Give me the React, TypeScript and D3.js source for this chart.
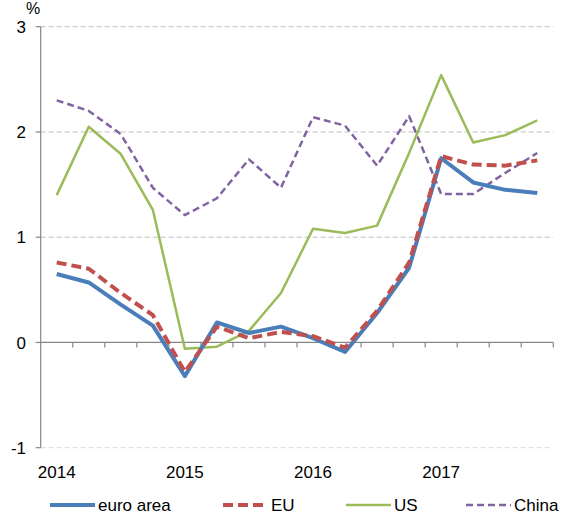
import React from 'react';
import * as d3 from 'd3';

// quarterly, 2014Q1 .. 2017Q4
const quarters = [
  '2014Q1', '2014Q2', '2014Q3', '2014Q4',
  '2015Q1', '2015Q2', '2015Q3', '2015Q4',
  '2016Q1', '2016Q2', '2016Q3', '2016Q4',
  '2017Q1', '2017Q2', '2017Q3', '2017Q4',
];
const yearLabels = ['2014', '2015', '2016', '2017'];
const yTicks = [-1, 0, 1, 2, 3];

const euroArea = [0.65, 0.57, 0.36, 0.16, -0.32, 0.19, 0.09, 0.15, 0.04, -0.09, 0.28, 0.71, 1.75, 1.52, 1.45, 1.42];
const eu = [0.76, 0.70, 0.47, 0.26, -0.28, 0.15, 0.04, 0.10, 0.06, -0.05, 0.30, 0.76, 1.77, 1.69, 1.68, 1.73];
const us = [1.40, 2.05, 1.79, 1.26, -0.06, -0.04, 0.11, 0.47, 1.08, 1.04, 1.11, 1.80, 2.54, 1.90, 1.97, 2.11];
const china = [2.30, 2.20, 1.98, 1.47, 1.21, 1.37, 1.74, 1.47, 2.14, 2.06, 1.68, 2.15, 1.41, 1.41, 1.61, 1.80];

const series = [
  { name: 'euro area', values: euroArea, color: '#4a7ebb', width: 4, dash: undefined as string | undefined },
  { name: 'EU', values: eu, color: '#c0504d', width: 4, dash: '10,5' },
  { name: 'US', values: us, color: '#9bbb59', width: 2.5, dash: undefined as string | undefined },
  { name: 'China', values: china, color: '#8064a2', width: 2.5, dash: '7,4' },
];
// draw order: China and US behind, euro area, EU on top
const drawOrder = ['China', 'US', 'euro area', 'EU'];

const W = 566;
const H = 517;
const left = 40.7;
const right = 553.3;
const font = '"Liberation Sans", Arial, sans-serif';

export default function App() {
  const x = d3.scaleBand<string>().domain(quarters).range([left, right]);
  const y = d3.scaleLinear().domain([-1, 3]).range([447.7, 26.7]);
  const line = d3
    .line<number>()
    .x((_, i) => (x(quarters[i]) as number) + x.bandwidth() / 2)
    .y((d) => y(d));

  const legendX = [50, 223, 346, 466];

  return (
    <svg
      width={W}
      height={H}
      style={{ position: 'absolute', left: 0, top: 0, background: '#fff' }}
      fontFamily={font}
    >
      {/* gridlines */}
      {yTicks.filter((t) => t !== 0).map((t) => (
        <line
          key={t}
          x1={left}
          x2={right}
          y1={y(t)}
          y2={y(t)}
          stroke={t === -1 ? '#d9d9d9' : '#bfbfbf'}
          strokeWidth={1}
          strokeDasharray="5,3"
        />
      ))}
      {/* y axis */}
      <line x1={left} x2={left} y1={y(3)} y2={y(-1)} stroke="#868686" strokeWidth={1.2} />
      {yTicks.map((t) => (
        <g key={t}>
          <line x1={left - 5} x2={left} y1={y(t)} y2={y(t)} stroke="#868686" strokeWidth={1.2} />
          <text x={26} y={y(t)} dy="0.36em" textAnchor="end" fontSize={17} fill="#000">
            {t}
          </text>
        </g>
      ))}
      <text x={33} y={14} textAnchor="middle" fontSize={16} fill="#000">%</text>
      {/* zero axis with quarter ticks */}
      <line x1={left} x2={right} y1={y(0)} y2={y(0)} stroke="#868686" strokeWidth={1.2} />
      {quarters.map((q) => (
        <line
          key={q}
          x1={(x(q) as number) + x.bandwidth()}
          x2={(x(q) as number) + x.bandwidth()}
          y1={y(0)}
          y2={y(0) + 5}
          stroke="#868686"
          strokeWidth={1.2}
        />
      ))}
      {yearLabels.map((yr) => {
        const q = yr + 'Q1';
        return (
          <text
            key={yr}
            x={(x(q) as number) + x.bandwidth() / 2}
            y={478}
            textAnchor="middle"
            fontSize={17}
            fill="#000"
          >
            {yr}
          </text>
        );
      })}
      {/* lines */}
      {drawOrder.map((n) => {
        const s = series.find((k) => k.name === n)!;
        return (
          <path
            key={n}
            d={line(s.values) || ''}
            fill="none"
            stroke={s.color}
            strokeWidth={s.width}
            strokeDasharray={s.dash}
            strokeLinejoin="round"
          />
        );
      })}
      {/* legend */}
      {series.map((s, i) => (
        <g key={s.name} transform={`translate(${legendX[i]},505)`}>
          <line x1={0} x2={45} y1={0} y2={0} stroke={s.color} strokeWidth={s.width} strokeDasharray={s.dash} />
          <text x={48} y={0} dy="0.36em" fontSize={17} fill="#000">
            {s.name}
          </text>
        </g>
      ))}
    </svg>
  );
}
